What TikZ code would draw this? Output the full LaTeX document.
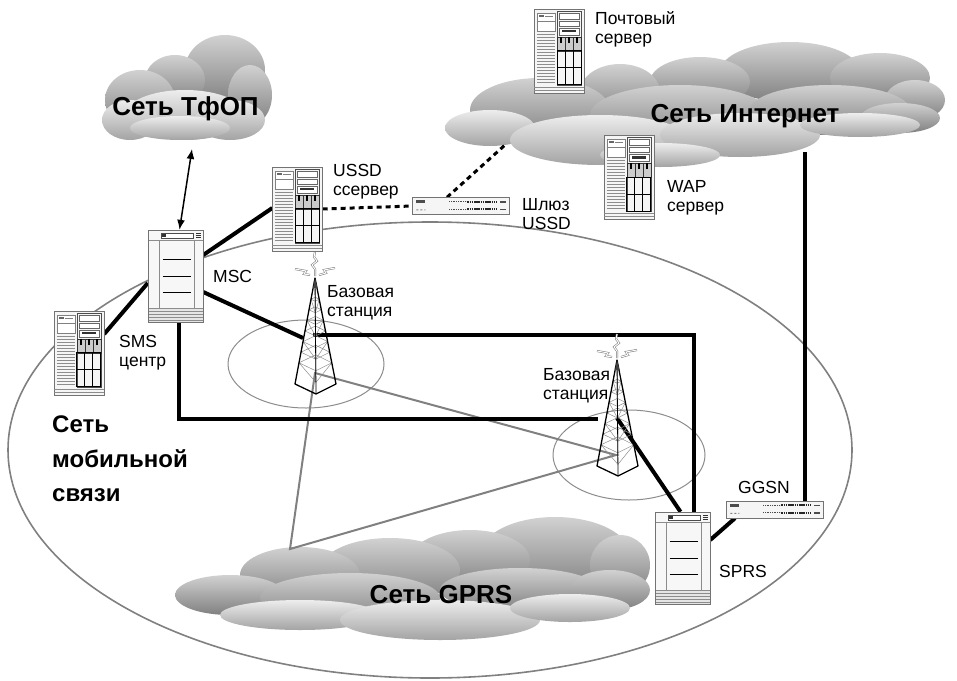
\documentclass[tikz,border=0pt]{standalone}
\usepackage{fontspec}
\setmainfont{Liberation Sans}
\usepackage{tikz}
\usetikzlibrary{arrows.meta}
\tikzset{>={Latex[width=2.8mm,length=3.5mm]}}

\tikzset{
  trunk/.style={line width=4pt},
  gwlink/.style={line width=3pt,dash pattern=on 5pt off 4pt},
  radio/.style={black!50,line width=2pt},
  zone/.style={black!50,line width=1.6pt},
  cell/.style={black!45,line width=1pt},
  puff/.style={shading=axis,top color=black!18,bottom color=black!50,draw=none},
  frontpuff/.style={shading=axis,top color=black!7,bottom color=black!36,draw=none},
  rackbox/.style={shape=rectangle,inner sep=0pt,minimum width=50pt,minimum height=84pt},
  towerbox/.style={shape=rectangle,inner sep=0pt,minimum width=55pt,minimum height=92pt},
  switchbox/.style={shape=rectangle,inner sep=0pt,minimum width=97pt,minimum height=17pt},
  devlabel/.style={anchor=north west,inner sep=0pt,align=left,font=\fontsize{17.5}{19.5}\selectfont},
  netlabel/.style={inner sep=0pt,font=\fontsize{26}{34.5}\selectfont\bfseries},
  aerial/.style={draw=black!55,line width=0.5pt,double=white,double distance=1pt},
}

% rack cabinet, drawn into a rackbox node
\newcommand{\rackpic}[1]{%
\begin{scope}[shift={(#1.north west)}]
  \draw[black!55,fill=black!4,line width=0.6pt] (0,0) rectangle (50,84);
  \draw[black!50,fill=white,line width=0.5pt] (3,4) rectangle (21,22);
  \draw[black!50,line width=0.5pt] (3,12) -- (21,12) (11,7) -- (19,7);
  \fill[black!60] (5,6) rectangle (10,8);
  \foreach \y in {25,28,...,73}
    \draw[black!45,line width=0.5pt] (3,\y) -- (21,\y);
  \draw[black!70,line width=0.6pt] (23,2) rectangle (47,76);
  \draw[black!60,fill=white,line width=0.5pt] (25,4) rectangle (45,10);
  \draw[black!60,fill=white,line width=0.5pt] (25,12) rectangle (45,17);
  \draw[black!60,fill=white,line width=0.5pt] (25,19) rectangle (45,26);
  \fill[black!80] (28,21) rectangle (42,23.5);
  \foreach \x in {23,31,39} {
    \draw[black!80,fill=black!20,line width=0.6pt] (\x,28) rectangle ++(8,14);
    \fill[black] (\x+3,28) rectangle ++(2,6);
  }
  \draw[black,line width=1pt] (23,42) rectangle (47,76);
  \draw[black,line width=1pt] (31,42) -- (31,76) (39,42) -- (39,76) (23,59) -- (47,59);
  \draw[black!45,line width=0.5pt] (0,78) -- (50,78) (0,81) -- (50,81);
\end{scope}}

% tower chassis, drawn into a towerbox node
\newcommand{\towerpic}[1]{%
\begin{scope}[shift={(#1.north west)}]
  \draw[black!55,fill=black!3,line width=0.6pt] (0,0) rectangle (55,92);
  \draw[black!45,line width=0.5pt] (0,10) -- (55,10) (11,10) -- (11,78) (46,10) -- (46,78);
  \draw[black!70,fill=white,line width=0.6pt] (13,3) rectangle (45,8);
  \fill[black!80] (14,4) rectangle (18,7);
  \foreach \y in {3.5,5.5,7.5}
    \draw[black!80,line width=0.7pt] (48,\y) -- (53,\y);
  \foreach \y in {30,47,63}
    \draw[black,line width=1pt] (15,\y) -- (43,\y);
  \fill[black!10] (0,78) rectangle (55,92);
  \foreach \y in {78,81,...,90}
    \draw[black!45,line width=0.5pt] (0,\y) -- (55,\y);
  \draw[black!55,line width=0.6pt] (0,0) rectangle (55,92);
\end{scope}}

% flat switch, drawn into a switchbox node
\newcommand{\switchpic}[1]{%
\begin{scope}[shift={(#1.north west)}]
  \draw[black!55,fill=black!4,line width=0.6pt] (0,0) rectangle (97,17);
  \fill[black!70] (4,3) rectangle (13,6);
  \fill[black!50] (4,12) rectangle (6,13) (8,12) rectangle (10,13) (12,12) rectangle (13,13);
  \foreach \y in {4.5,12} {
    \draw[black!70,line width=1.2pt,dash pattern=on 1pt off 0.7pt] (37,\y) -- (54,\y);
    \draw[black!85,line width=2.2pt,dash pattern=on 1.6pt off 0.6pt] (55,\y) -- (85,\y);
    \draw[black!70,line width=1.6pt] (88,\y) -- (94,\y);
  }
\end{scope}}

% lattice mast with aerials, apex at #1
\newcommand{\mastpic}[1]{%
\begin{scope}[shift={(#1)}]
  \foreach \t in {0.2,0.3,...,0.9}
    \draw[black!45,line width=0.5pt] (-20*\t,106*\t) -- (\t,116*\t) -- (21*\t,106*\t) -- (\t,96*\t) -- cycle;
  \foreach \t/\u in {0.2/0.3,0.4/0.5,0.6/0.7,0.8/0.9} {
    \draw[black!45,line width=0.5pt] (-20*\t,106*\t) -- (\u,116*\u) -- (21*\t,106*\t);
  }
  \draw[black!50,line width=0.6pt] (0,0) -- (1,96);
  \draw[black,line width=0.8pt] (0,0) -- (1,116);
  \draw[black,line width=1.3pt,line join=round] (-20,106) -- (0,0) -- (21,106) -- (1,116) -- cycle;
  \fill[black!75] (0,0) -- (-2,10) -- (2.5,10) -- cycle;
  \draw[aerial] (0,-2) -- (0,-9) -- (-3,-13) -- (2,-17) -- (-1,-21) -- (0,-26);
  \draw[aerial] (-5,-3) -- (-11,-4) -- (-9,-7) -- (-20,-9);
  \draw[aerial] (4,-3) -- (11,-5) -- (9,-8) -- (20,-10);
\end{scope}}

\begin{document}
\begin{tikzpicture}[x=1pt,y=-1pt]
\useasboundingbox (0,0) rectangle (957,680);

% equipment boxes
\path (559.5,51) node (mail) [rackbox] {};
\path (629,177.5) node (wap) [rackbox] {};
\path (297.5,209) node (ussdsrv) [rackbox] {};
\path (79,353) node (sms) [rackbox] {};
\path (175.5,276) node (msc) [towerbox] {};
\path (682.5,558) node (sprs) [towerbox] {};
\path (461,206) node (ussdgw) [switchbox] {};
\path (775,509.5) node (ggsn) [switchbox] {};

% mast points
\coordinate (bs1) at (315,278);
\coordinate (bs2) at (617,360);
\coordinate (bs1-l) at (303,338);
\coordinate (bs1-c) at (313,335);
\coordinate (bs1-b) at (315,373);
\coordinate (bs2-l) at (598,419);
\coordinate (bs2-c) at (617,418);
\coordinate (bs2-b) at (616,455);
\coordinate (gprs-t) at (290,549);
\coordinate (pstn-b) at (192,149);
\coordinate (inet-gw) at (505,145);
\coordinate (inet-in) at (805,152);

% mobile network area and cells
\draw[zone] (430,450) ellipse [x radius=422,y radius=228];
\draw[cell] (306,364) ellipse [x radius=78,y radius=44];
\draw[cell] (629,455) ellipse [x radius=76,y radius=45];

% clouds: back puffs, then front puffs
\foreach \cx/\cy/\rx/\ry in {225/70/40/35,175/80/30/25,140/100/35/30,250/95/22/30}
  \path[puff] (\cx,\cy) ellipse [x radius=\rx,y radius=\ry];
\foreach \cx/\cy/\rx/\ry in {185/115/60/25,130/120/28/20,230/120/35/20,180/128/50/12}
  \path[frontpuff] (\cx,\cy) ellipse [x radius=\rx,y radius=\ry];

\foreach \cx/\cy/\rx/\ry in {790/72/70/30,880/78/50/25,700/82/50/25,620/92/40/28,915/100/30/20,
    540/110/70/32,680/115/90/30,830/110/80/25,900/118/40/15}
  \path[puff] (\cx,\cy) ellipse [x radius=\rx,y radius=\ry];
\foreach \cx/\cy/\rx/\ry in {490/128/45/18,600/140/90/25,740/135/80/22,860/125/60/12,660/155/60/12}
  \path[frontpuff] (\cx,\cy) ellipse [x radius=\rx,y radius=\ry];

\foreach \cx/\cy/\rx/\ry in {555/555/75/38,470/560/60/30,390/570/70/32,300/575/60/28,620/565/30/30,
    230/595/55/20,350/598/90/25,520/590/80/22,610/590/40/20}
  \path[puff] (\cx,\cy) ellipse [x radius=\rx,y radius=\ry];
\foreach \cx/\cy/\rx/\ry in {300/615/80/15,440/620/100/20,570/608/60/14}
  \path[frontpuff] (\cx,\cy) ellipse [x radius=\rx,y radius=\ry];

% radio links
\draw[radio] (bs1-b) -- (bs2-b) -- (gprs-t) -- cycle;

% wired links
\draw[trunk] ([yshift=21pt]msc.east) -- ([yshift=1pt]ussdsrv.west);
\draw[trunk] ([yshift=-16pt]msc.east) -- (bs1-l);
\draw[trunk] (bs1-c) -| ([xshift=11pt]sprs.north);
\draw[trunk] ([xshift=3pt]msc.south) |- (bs2-l);
\draw[trunk] (bs2-c) -- ([xshift=-2pt]sprs.north);
\draw[trunk] ([yshift=18pt]sprs.east) -- ([xshift=-40pt]ggsn.south);
\draw[trunk] (inet-in |- ggsn.north) -- (inet-in);
\draw[trunk] ([yshift=19pt]sms.east) -- ([yshift=-7pt]msc.west);
\draw[gwlink] (ussdsrv.east) -- (ussdgw.west);
\draw[gwlink] ([xshift=-14pt]ussdgw.north) -- (inet-gw);
\draw[<->,line width=1.5pt] (pstn-b) -- ([xshift=4pt]msc.north);

% masts
\mastpic{bs1}
\mastpic{bs2}

% equipment
\rackpic{mail}
\rackpic{wap}
\rackpic{ussdsrv}
\rackpic{sms}
\towerpic{msc}
\towerpic{sprs}
\switchpic{ussdgw}
\switchpic{ggsn}

% labels
\path (185.5,115) node (pstn) [netlabel,anchor=base] {Сеть ТфОП};
\path (745,122) node (inet) [netlabel,anchor=base] {Сеть Интернет};
\path (441,603) node (gprs) [netlabel,anchor=base] {Сеть GPRS};
\path (52,416) node (mob) [netlabel,anchor=north west,align=left,font=\fontsize{24}{34.5}\selectfont\bfseries] {Сеть\\мобильной\\связи};

\path (595,11) node (mail-l) [devlabel] {Почтовый\\сервер};
\path (333,164) node (ussdsrv-l) [devlabel] {USSD\\ссервер};
\path (522,198) node (ussdgw-l) [devlabel] {Шлюз\\USSD};
\path (213,270) node (msc-l) [devlabel] {MSC};
\path (119,335) node (sms-l) [devlabel] {SMS\\центр};
\path (327,285) node (bs1-lbl) [devlabel] {Базовая\\станция};
\path (543,368) node (bs2-lbl) [devlabel] {Базовая\\станция};
\path (667,180) node (wap-l) [devlabel] {WAP\\сервер};
\path (738,481) node (ggsn-l) [devlabel] {GGSN};
\path (719,565) node (sprs-l) [devlabel] {SPRS};

\end{tikzpicture}
\end{document}
